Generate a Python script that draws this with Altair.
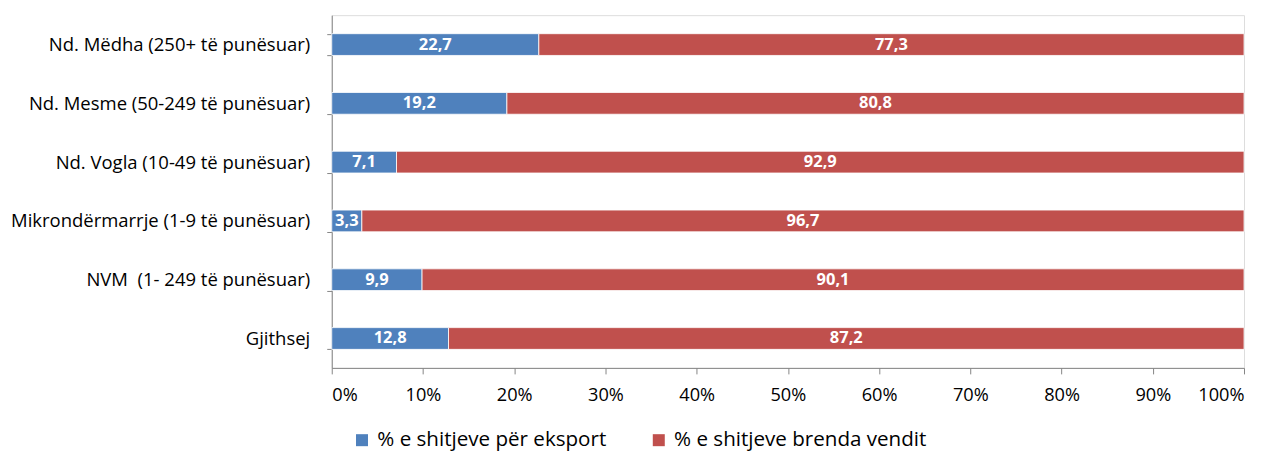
import altair as alt
import pandas as pd

categories = [
    "Nd. Mëdha (250+ të punësuar)",
    "Nd. Mesme (50-249 të punësuar)",
    "Nd. Vogla (10-49 të punësuar)",
    "Mikrondërmarrje (1-9 të punësuar)",
    "NVM\u00a0 (1- 249 të punësuar)",
    "Gjithsej",
]
export_share = [22.7, 19.2, 7.1, 3.3, 9.9, 12.8]
domestic_share = [77.3, 80.8, 92.9, 96.7, 90.1, 87.2]
series = ["% e shitjeve për eksport", "% e shitjeve brenda vendit"]
colors = ["#4F81BD", "#C0504D"]

rows = []
for c, e, d in zip(categories, export_share, domestic_share):
    rows.append({"cat": c, "series": series[0], "value": e, "ord": 0})
    rows.append({"cat": c, "series": series[1], "value": d, "ord": 1})
df = pd.DataFrame(rows)

FONT = "Open Sans"

base = alt.Chart(df).transform_stack(
    stack="value", groupby=["cat"], as_=["v0", "v1"], sort=[{"field": "ord"}]
).transform_calculate(
    mid="(datum.v0 + datum.v1) / 2",
    lbl="replace(format(datum.value, '.1f'), '.', ',')",
)

y_enc = alt.Y(
    "cat:N",
    sort=categories,
    title=None,
    scale=alt.Scale(paddingInner=0.63, paddingOuter=0.315),
    axis=alt.Axis(
        tickBand="extent",
        tickSize=5,
        labelPadding=17,
        labelFontSize=18.5,
        labelFont=FONT,
        labelColor="#000000",
        domainColor="#868686",
        tickColor="#868686",
        labelLimit=400,
    ),
)

bars = base.mark_bar(stroke="white", strokeWidth=0.8).encode(
    x=alt.X(
        "v0:Q",
        scale=alt.Scale(domain=[0, 100], nice=False),
        title=None,
        axis=alt.Axis(
            values=list(range(0, 101, 10)),
            labelExpr="datum.value + '%'",
            tickSize=6,
            labelPadding=13,
            labelFontSize=18.2,
            labelFont=FONT,
            labelColor="#000000",
            domainColor="#868686",
            tickColor="#868686",
            grid=False,
        ),
    ),
    x2="v1:Q",
    y=y_enc,
    color=alt.Color(
        "series:N",
        sort=series,
        scale=alt.Scale(domain=series, range=colors),
        title=None,
        legend=alt.Legend(
            orient="none",
            legendX=20,
            legendY=415,
            direction="horizontal",
            symbolType="square",
            symbolSize=144,
            symbolStrokeWidth=0,
            labelFontSize=20.6,
            labelFont=FONT,
            labelColor="#000000",
            labelOffset=5,
            columnPadding=42,
            labelLimit=400,
        ),
    ),
    order=alt.Order("ord:Q"),
)

text = base.mark_text(
    color="white", fontWeight="bold", fontSize=16.5, font=FONT, baseline="middle"
).encode(
    x="mid:Q",
    y=alt.Y("cat:N", sort=categories),
    text="lbl:N",
)

chart = (
    alt.layer(bars, text)
    .properties(
        width=913,
        height=353,
        autosize=alt.AutoSizeParams(type="none"),
        padding={"left": 324, "top": 7, "right": 20, "bottom": 83},
    )
    .configure_view(stroke=None)
    .configure(background="white")
)

chart.save("out.html", embed_options={"renderer": "svg", "actions": False})
